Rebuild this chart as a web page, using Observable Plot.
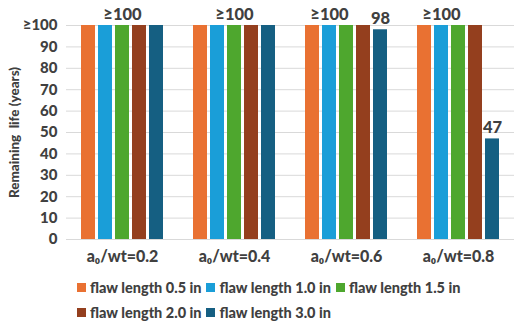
<!DOCTYPE html>
<html>
<head>
<meta charset="utf-8">
<script src="https://cdn.jsdelivr.net/npm/d3@7"></script>
<script src="https://cdn.jsdelivr.net/npm/@observablehq/plot@0.6"></script>
<style>
  html, body { margin: 0; padding: 0; background: #fff; }
  body { width: 515px; height: 326px; overflow: hidden; font-family: Lato, "Open Sans", sans-serif; }
  #legend { display: flex; flex-wrap: wrap; width: 400px; margin-left: 77px; margin-top: 7px; row-gap: 8px; column-gap: 5px; }
  .item { display: flex; align-items: center; font-weight: 900; font-size: 14.5px; color: #404040; white-space: nowrap; line-height: 17px; }
  .sw { width: 9px; height: 9px; margin-right: 4px; }
</style>
</head>
<body>
<div id="chart"></div>
<div id="legend"></div>
<script>
const groups = ["a₀/wt=0.2", "a₀/wt=0.4", "a₀/wt=0.6", "a₀/wt=0.8"];
const series = ["flaw length 0.5 in", "flaw length 1.0 in", "flaw length 1.5 in", "flaw length 2.0 in", "flaw length 3.0 in"];
const colors = ["#E97132", "#1A9ED8", "#4EA72E", "#943F1E", "#155F82"];
const values = [
  [100, 100, 100, 100, 100],
  [100, 100, 100, 100, 100],
  [100, 100, 100, 100, 98],
  [100, 100, 100, 100, 47]
];
const labelText = ["≥100", "≥100", "≥100", "98", "≥100", "47"];
const labelGroup = [0, 1, 2, 2, 3, 3];
const labelSeries = [2, 2, 1, 4, 1, 4];
const labelValue = [100, 100, 100, 98, 100, 47];
const yTicks = [0, 10, 20, 30, 40, 50, 60, 70, 80, 90, 100];
const yTickLabels = ["0", "10", "20", "30", "40", "50", "60", "70", "80", "90", "≥100"];
const yTitle = "Remaining  life (years)";

const data = [];
groups.forEach((g, i) => series.forEach((s, j) => data.push({group: g, series: s, value: values[i][j]})));
const labels = labelText.map((t, k) => ({text: t, group: groups[labelGroup[k]], series: series[labelSeries[k]], value: labelValue[k]}));

const chart = Plot.plot({
  width: 515,
  height: 272,
  marginTop: 25,
  marginBottom: 33,
  marginLeft: 65,
  marginRight: 0,
  style: {fontFamily: "Lato, sans-serif", fontWeight: "900", color: "#404040", fontSize: "13px"},
  fx: {domain: groups, padding: 0, label: null},
  x: {domain: series, paddingInner: 0.2, paddingOuter: 0.88, axis: null},
  y: {domain: [0, 100], label: null},
  color: {domain: series, range: colors},
  marks: [
    Plot.gridY(yTicks, {stroke: "#d9d9d9", strokeOpacity: 1}),
    Plot.axisY(yTicks, {tickFormat: (d, i) => yTickLabels[i], tickSize: 0, tickPadding: 9, fontSize: 15, fill: "#404040", label: null}),
    Plot.axisFx({anchor: "bottom", tickSize: 0, tickPadding: 11, fontSize: 16, fill: "#404040", label: null}),
    Plot.barY(data, {fx: "group", x: "series", y: "value", fill: "series"}),
    Plot.text(labels, {fx: "group", x: "series", y: "value", text: "text", dy: -11, fontSize: 16.5, fill: "#404040"}),
    Plot.text([yTitle], {frameAnchor: "left", textAnchor: "middle", rotate: -90, dx: -52, fontSize: 13.5, fill: "#404040", facetAnchor: "left"})
  ]
});
document.getElementById("chart").appendChild(chart);

const legend = document.getElementById("legend");
series.forEach((s, i) => {
  const it = document.createElement("div");
  it.className = "item";
  const sw = document.createElement("span");
  sw.className = "sw";
  sw.style.background = colors[i];
  it.appendChild(sw);
  it.appendChild(document.createTextNode(s));
  legend.appendChild(it);
});
</script>
</body>
</html>
